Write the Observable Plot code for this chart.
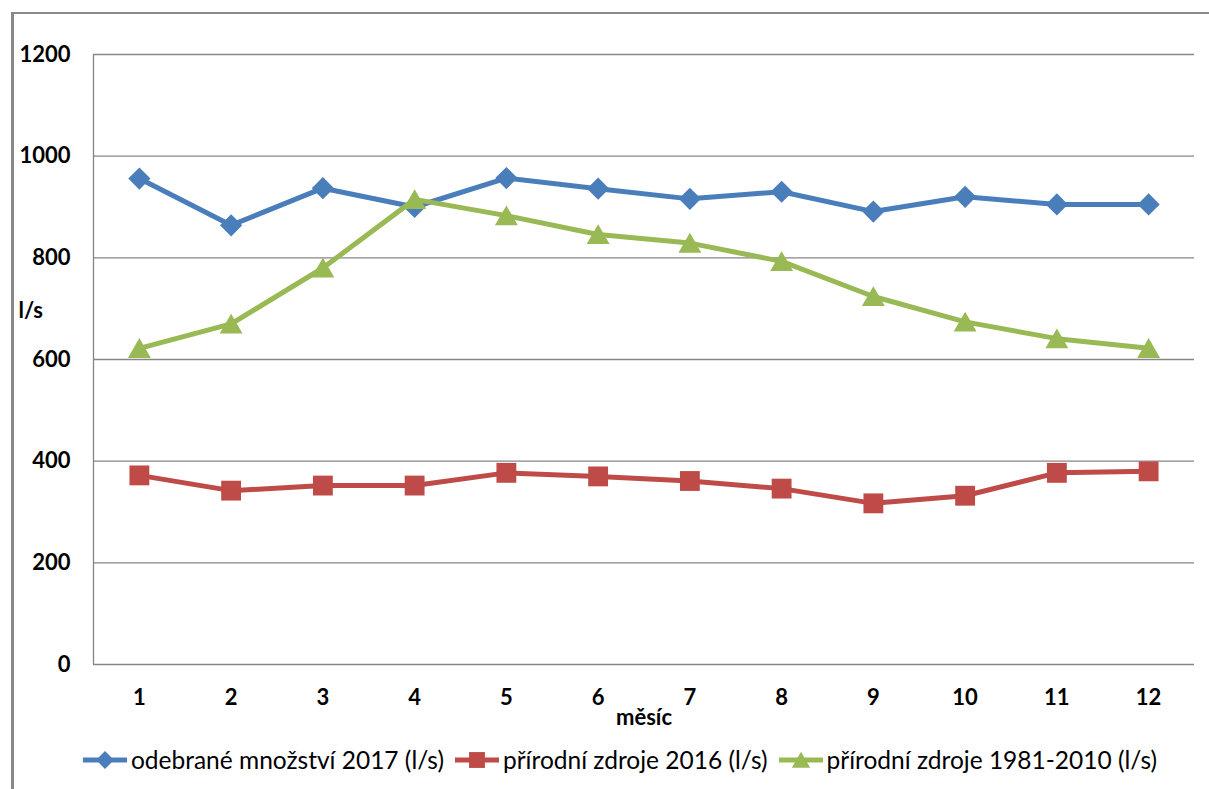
<!DOCTYPE html>
<html>
<head>
<meta charset="utf-8">
<script src="https://cdn.jsdelivr.net/npm/d3@7"></script>
<script src="https://cdn.jsdelivr.net/npm/@observablehq/plot@0.6"></script>
<style>
  body { margin: 0; background: #fff; }
  #chart { position: relative; width: 1209px; height: 789px; overflow: hidden; font-family: Lato, "Open Sans", sans-serif; }
  #border { position: absolute; left: 11px; top: 12px; width: 1300px; height: 900px; border-top: 2px solid #898989; border-left: 3px solid #898989; box-sizing: border-box; }
  #plot { position: absolute; left: 0; top: 0; }
  #legend { position: absolute; left: 15px; top: 745px; width: 1209px; display: flex; justify-content: center; align-items: center; gap: 10px; font-size: 24.5px; color: #000; }
  .item { display: flex; align-items: center; gap: 3px; }
  .item svg { display: block; }
</style>
</head>
<body>
<div id="chart">
  <div id="border"></div>
  <div id="plot"></div>
  <div id="legend"></div>
</div>
<script>
// Monthly flows (l/s)
const months = [1, 2, 3, 4, 5, 6, 7, 8, 9, 10, 11, 12];
const odebrane2017 = [956, 864, 937, 900, 957, 936, 916, 930, 891, 920, 905, 905];
const prirodni2016 = [372, 342, 352, 352, 377, 370, 361, 346, 317, 332, 377, 380];
const prirodni1981 = [622, 670, 780, 915, 883, 846, 829, 793, 724, 674, 641, 622];

const seriesNames = ["odebrané množství 2017 (l/s)", "přírodní zdroje 2016 (l/s)", "přírodní zdroje 1981-2010 (l/s)"];
const seriesColors = ["#4a7ebb", "#be4b48", "#98b954"];
const seriesSymbols = ["diamond2", "square", "triangle"];
const symbolRadius = [10, 11.2, 8.5];
// d3's triangle is centred on its centroid; shift it so its box sits on the point
const symbolDy = [0, 0, 3];
const yTicks = [0, 200, 400, 600, 800, 1000, 1200];

const seriesValues = [odebrane2017, prirodni2016, prirodni1981];
const rows = seriesValues.flatMap((vals, s) => months.map((m, i) => ({month: m, value: vals[i], series: seriesNames[s]})));

const seriesMarks = seriesNames.flatMap((name, s) => {
  const data = rows.filter(d => d.series === name);
  return [
    Plot.line(data, {x: "month", y: "value", stroke: seriesColors[s], strokeWidth: 5}),
    Plot.dot(data, {x: "month", y: "value", symbol: () => seriesSymbols[s], r: symbolRadius[s], dy: symbolDy[s], fill: seriesColors[s], stroke: "none"})
  ];
});

const chart = Plot.plot({
  width: 1209,
  height: 745,
  marginLeft: 93,
  marginRight: 15,
  marginTop: 54,
  marginBottom: 81,
  style: {fontFamily: "Lato, 'Open Sans', sans-serif", fontSize: "22px", fontWeight: "bold", color: "#000", background: "transparent", overflow: "visible"},
  x: {domain: [0.5, 12.5], ticks: months, tickSize: 0, tickPadding: 25, label: null, tickFormat: d => String(d)},
  y: {domain: [0, 1200], ticks: yTicks, tickSize: 0, tickPadding: 23, label: null, tickFormat: d => String(d)},
  symbol: {type: "identity"},
  marks: [
    Plot.ruleY(yTicks, {stroke: "#868686", strokeWidth: 1.3}),
    Plot.ruleX([0.5], {stroke: "#868686", strokeWidth: 1.3}),
    ...seriesMarks,
    Plot.text(["l/s"], {frameAnchor: "left", textAnchor: "start", dx: -75, dy: -49, fontSize: 22, fontWeight: "bold", fill: "#000"}),
    Plot.text(["měsíc"], {frameAnchor: "bottom", dy: 60, fontSize: 22, fontWeight: "bold", fill: "#000"})
  ]
});
document.getElementById("plot").appendChild(chart);

// Legend: swatch with line + marker, then label
const legend = d3.select("#legend");
const symbolTypes = {diamond2: d3.symbolDiamond2, square: d3.symbolSquare, triangle: d3.symbolTriangle};
seriesNames.forEach((name, s) => {
  const item = legend.append("div").attr("class", "item");
  const svg = item.append("svg").attr("width", 46).attr("height", 24);
  svg.append("line").attr("x1", 1).attr("x2", 45).attr("y1", 12).attr("y2", 12)
    .attr("stroke", seriesColors[s]).attr("stroke-width", 5);
  svg.append("path")
    .attr("transform", `translate(23,${12 + symbolDy[s] * 0.8})`)
    .attr("d", d3.symbol(symbolTypes[seriesSymbols[s]], Math.PI * (symbolRadius[s] * 0.8) ** 2)())
    .attr("fill", seriesColors[s]);
  item.append("span").text(name);
});
</script>
</body>
</html>
